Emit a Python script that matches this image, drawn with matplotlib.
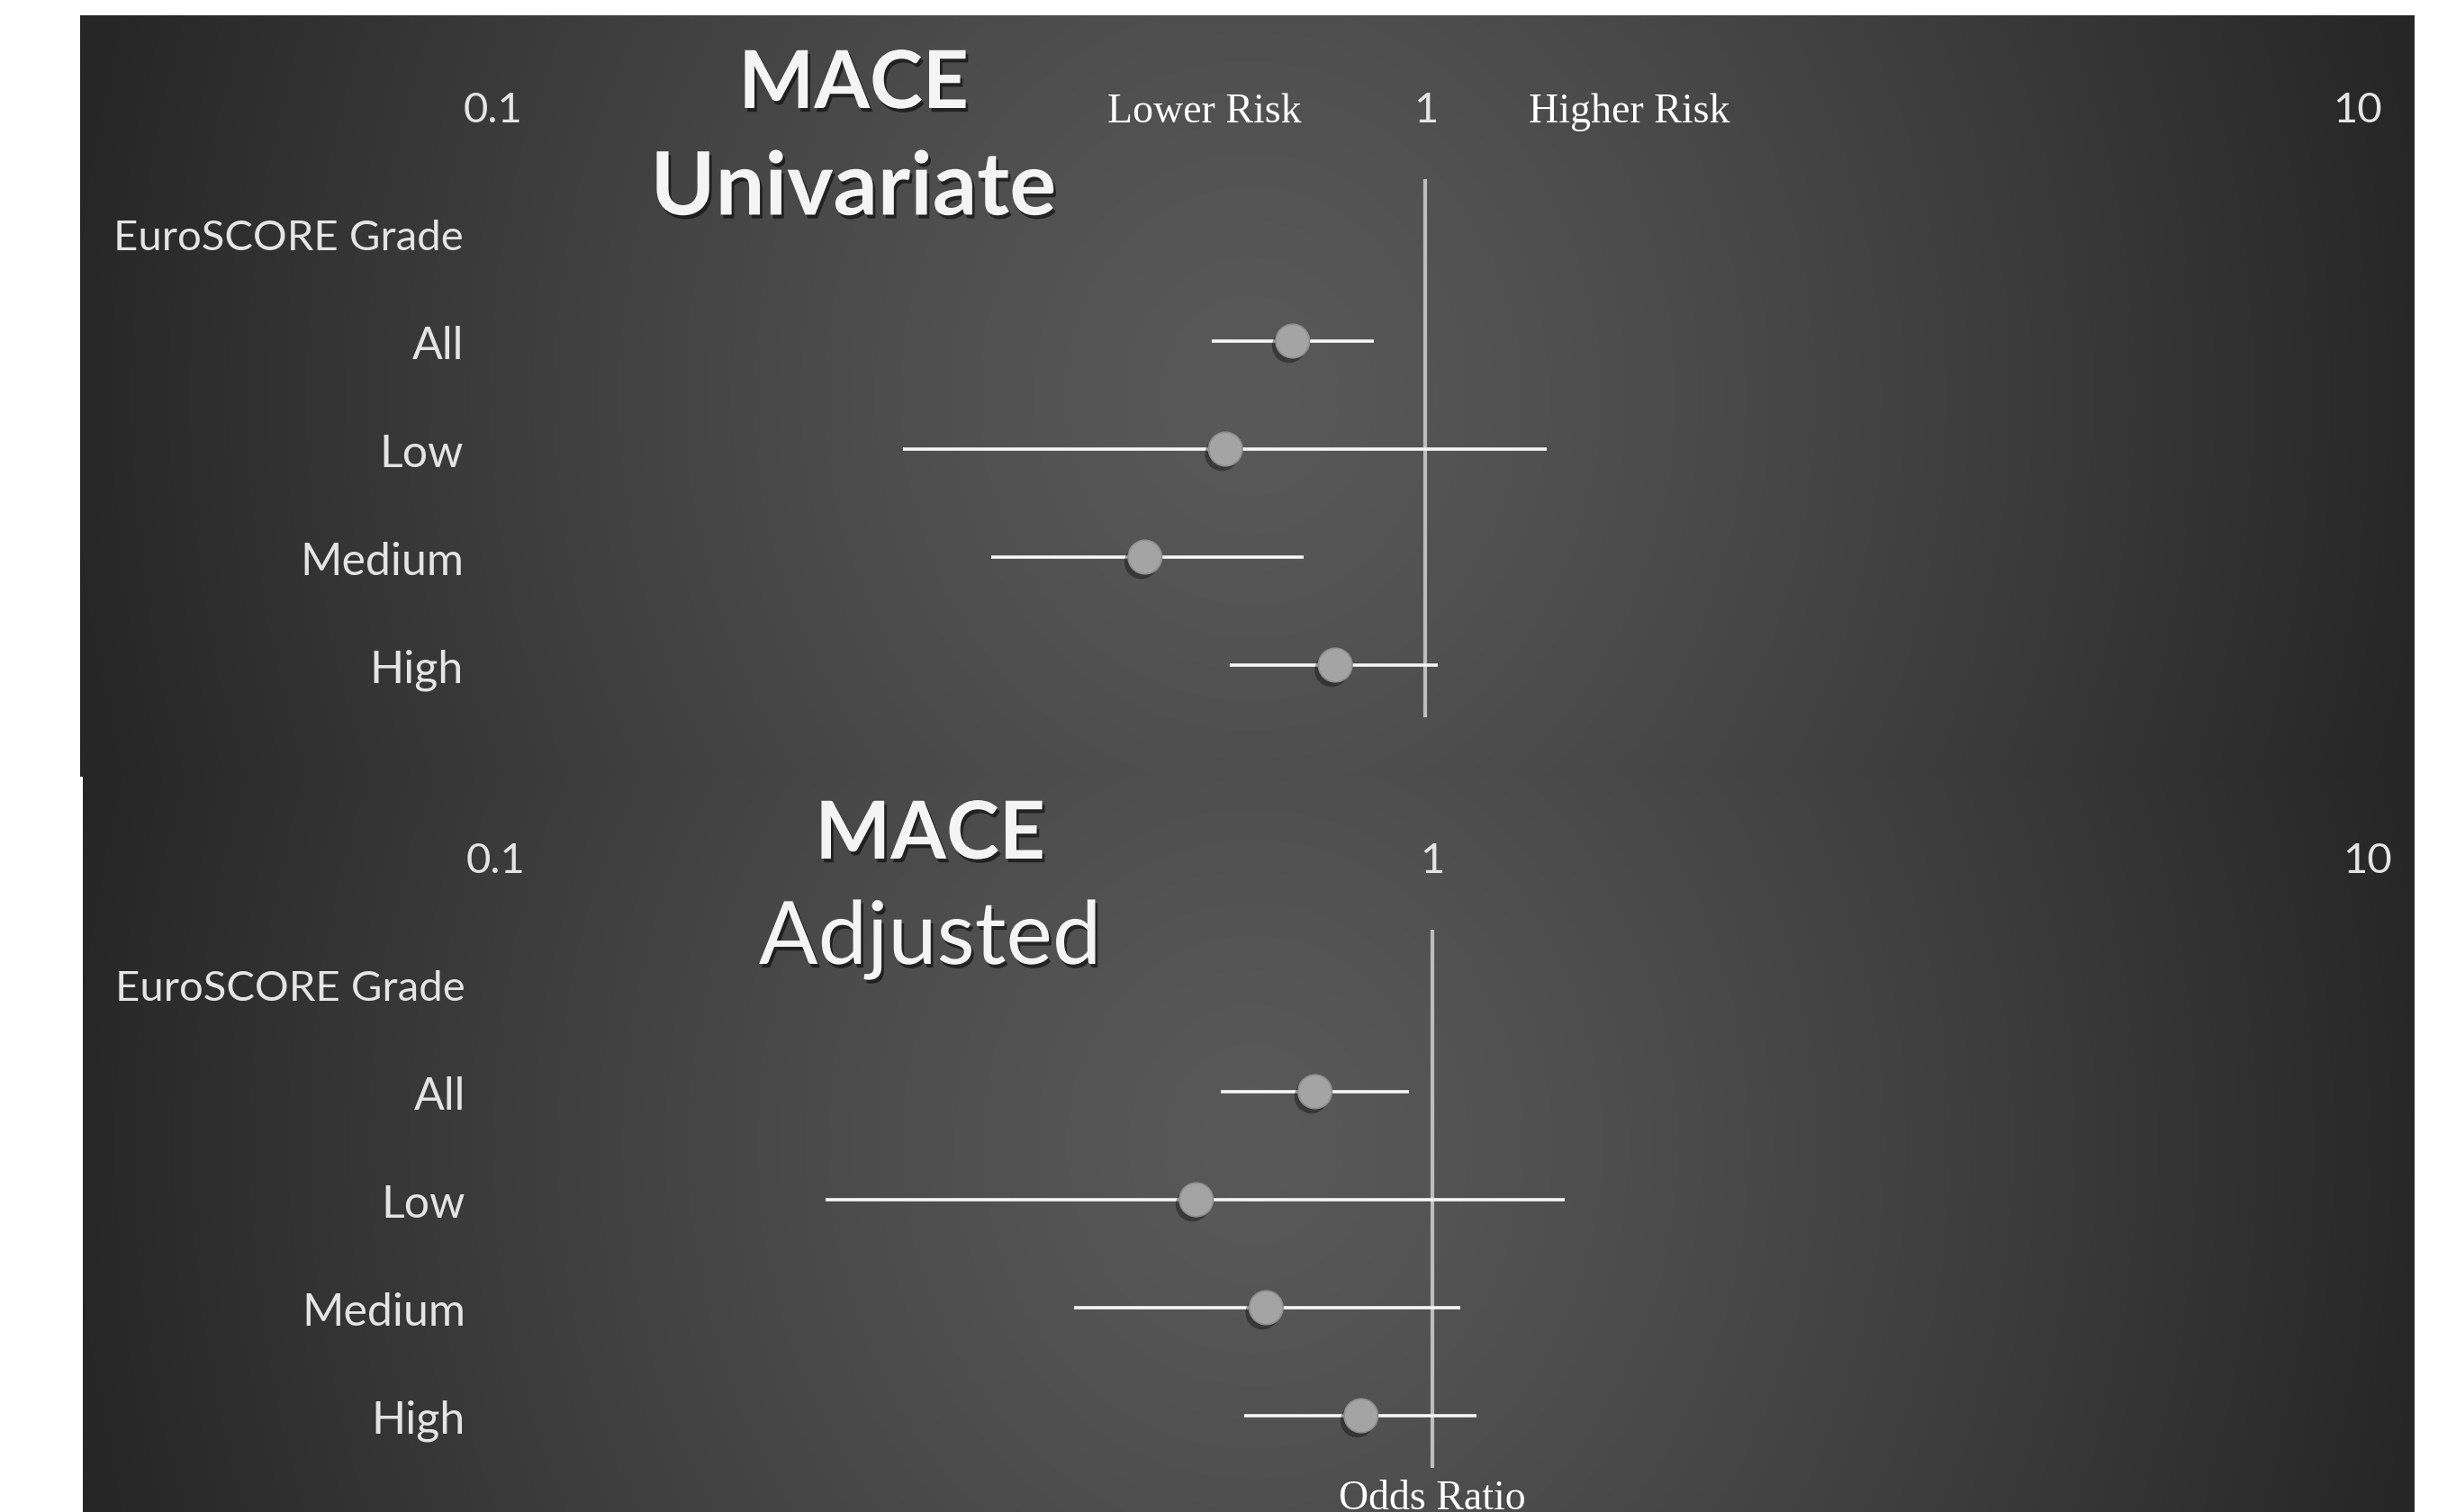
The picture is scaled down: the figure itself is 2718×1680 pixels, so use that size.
import matplotlib
matplotlib.use("Agg")
import matplotlib.pyplot as plt
import matplotlib.patheffects as pe
import numpy as np

# ---------------- data ----------------
groups = ["All", "Low", "Medium", "High"]
header = "EuroSCORE Grade"

uni_or = [0.72, 0.61, 0.50, 0.80]
uni_lo = [0.59, 0.275, 0.342, 0.616]
uni_hi = [0.88, 1.35, 0.74, 1.03]

adj_or = [0.75, 0.56, 0.665, 0.84]
adj_lo = [0.595, 0.225, 0.415, 0.63]
adj_hi = [0.946, 1.385, 1.073, 1.117]

tick_vals = [0.1, 1, 10]
tick_text = ["0.1", "1", "10"]

# ---------------- layout (pixels) ----------------
W, H = 2718, 1681
fig = plt.figure(figsize=(W / 100, H / 100), dpi=100, facecolor="white")

SANS = ["Lato", "DejaVu Sans"]
SERIF = ["Liberation Serif", "DejaVu Serif"]
TXT = "#e4e4e4"

# head = pixel row that the header texts (scale labels, titles) hang from
panels = [
    dict(left=89, right=2682, top=18, bottom=864, head=18, x01=548, x10=2619, row0=260,
         lab_x=515, title=("MACE", "Univariate"), title_x=948, title_w="bold",
         risk=True, odds=False, or_=uni_or, lo=uni_lo, hi=uni_hi),
    dict(left=92, right=2682, top=864, bottom=1681, head=852, x01=551, x10=2630, row0=1094,
         lab_x=517, title=("MACE", "Adjusted"), title_x=1033, title_w="normal",
         risk=False, odds=True, or_=adj_or, lo=adj_lo, hi=adj_hi),
]
STEP = 120.0
TXT_DY = 5  # small downward nudge for text


def add_px_axes(l, r, t, b):
    return fig.add_axes([l / W, 1 - b / H, (r - l) / W, (b - t) / H])


def background(ax, w, h):
    # soft radial grey gradient like the slide background
    ny, nx = 120, 400
    xx, yy = np.meshgrid(np.linspace(0, w, nx), np.linspace(0, h, ny))
    cx, cy = 1300.0, h * 0.5
    r = np.sqrt(((xx - cx) / 1330.0) ** 2 + ((yy - cy) / 1500.0) ** 2)
    r = np.clip(r, 0, 1) ** 1.25
    v = (0x59 - (0x59 - 0x26) * r) / 255.0
    img = np.dstack([v, v, v])
    ax.imshow(img, extent=[0, w, h, 0], aspect="auto", interpolation="bilinear")
    ax.set_xlim(0, w)
    ax.set_ylim(h, 0)
    ax.axis("off")


shadow_txt = [pe.withSimplePatchShadow(offset=(2, -3), shadow_rgbFace="black", alpha=0.55)]
shadow_mk = [pe.SimplePatchShadow(offset=(-3, -4), shadow_rgbFace="black", alpha=0.35), pe.Normal()]

for p in panels:
    bg = add_px_axes(p["left"], p["right"], p["top"], p["bottom"])
    background(bg, p["right"] - p["left"], p["bottom"] - p["top"])

    ax = add_px_axes(p["left"], p["right"], p["top"], p["bottom"])
    ax.set_facecolor("none")
    d = (p["x10"] - p["x01"]) / 2.0

    def px2val(px, p=p, d=d):
        return 10 ** (-1 + (px - p["x01"]) / d)

    def py2row(py, p=p):
        return (py - p["row0"]) / STEP

    ax.set_xscale("log")
    ax.set_xlim(px2val(p["left"]), px2val(p["right"]))
    ax.set_ylim(py2row(p["bottom"]), py2row(p["top"]))
    ax.axis("off")

    rows = np.arange(1, len(groups) + 1)
    ty = TXT_DY / STEP
    hd = p["head"]

    # reference line at OR = 1
    ax.vlines(1, -0.5, 4.48, color="#bdbdbd", lw=3, zorder=2)
    # confidence intervals
    ax.hlines(rows, p["lo"], p["hi"], color="#f7f7f7", lw=2.6, zorder=3)
    # point estimates
    ax.plot(p["or_"], rows, "o", ms=27, mfc="#a4a4a4", mec="#8e8e8e", mew=1.2,
            zorder=4, path_effects=shadow_mk)

    # scale labels
    for v, t in zip(tick_vals, tick_text):
        ax.text(v, py2row(hd + 100) + ty, t, ha="center", va="center",
                fontsize=34, color=TXT, family=SANS)

    # row labels
    lx = px2val(p["lab_x"])
    ax.text(lx, ty, header, ha="right", va="center", fontsize=34, color=TXT, family=SANS)
    for r, g in zip(rows, groups):
        ax.text(lx, r + ty, g, ha="right", va="center", fontsize=36, color=TXT, family=SANS)

    # panel title
    tx = px2val(p["title_x"])
    ax.text(tx, py2row(hd + 72) + ty, p["title"][0], ha="center", va="center",
            fontsize=64, fontweight="bold", color="#f4f4f4", family=SANS,
            path_effects=shadow_txt)
    ax.text(tx, py2row(hd + 188) + ty, p["title"][1], ha="center", va="center",
            fontsize=70, fontweight=p["title_w"], color="#f4f4f4", family=SANS,
            path_effects=shadow_txt)

    if p["risk"]:
        ax.text(px2val(1338), py2row(hd + 102) + ty, "Lower Risk", ha="center",
                va="center", fontsize=33, color="white", family=SERIF)
        ax.text(px2val(1810), py2row(hd + 102) + ty, "Higher Risk", ha="center",
                va="center", fontsize=33, color="white", family=SERIF)
    if p["odds"]:
        ax.text(1, 4.72 + ty, "Odds Ratio", ha="center", va="center", fontsize=33,
                color="white", family=SERIF, clip_on=False)

fig.savefig("out.png", dpi=100, facecolor="white")
